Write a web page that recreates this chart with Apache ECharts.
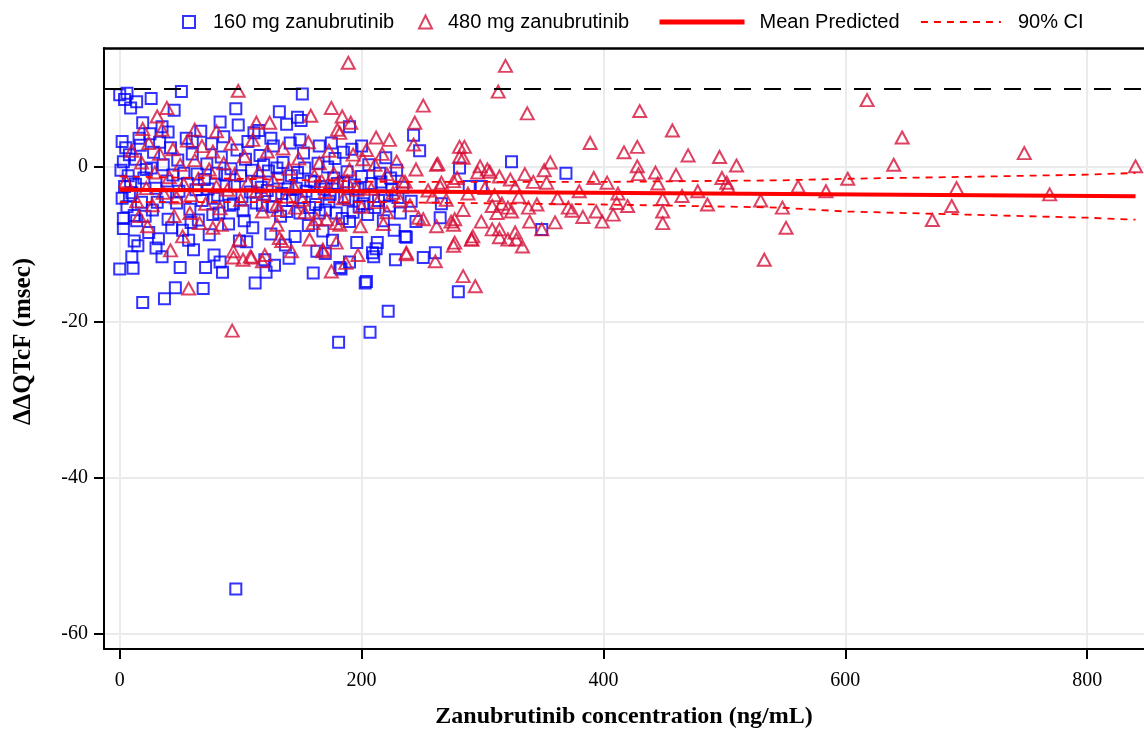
<!DOCTYPE html>
<html>
<head>
<meta charset="utf-8">
<script src="https://cdn.jsdelivr.net/npm/echarts@6/dist/echarts.min.js"></script>
<style>html,body{margin:0;padding:0;background:#fff}#c{width:1144px;height:735px}</style>
</head>
<body>
<div id="c"></div>
<script>
// ---- data ----
const xTicks = [0, 200, 400, 600, 800];
const yTicks = [-60, -40, -20, 0];

const blue160 = [
[0,9.2],[6,9.4],[4,8.6],[14,8.3],[9,7.5],[26,8.7],[51,9.6],[151,9.3],[96,7.4],[45,7.2],[132,7.0],[147,6.3],[150,5.9],[190,5.1],[83,5.7],[98,5.3],[35,5.1],[19,5.6],[149,3.4],[111,4.3],
[2,3.2],[5,2.4],[8,1.5],[3,0.6],[1,-0.5],[7,-1.2],[4,-2.6],[10,-3.4],[2,-4.1],[6,-5.2],[12,-6.3],[3,-8.0],[10,-11.6],[0,-13.2],[11,-13.1],[15,-10.2],[13,0.9],[16,3.6],[9,-2.0],[14,-7.0],[18,-4.6],[20,-1.5],[17,2.7],[22,-0.4],[24,-8.5],[19,-17.5],[25,4.2],[28,1.8],[30,-2.8],[27,-5.6],[32,-9.3],[35,-11.6],[37,-17.0],[33,3.1],[36,0.2],[38,-3.9],[40,-6.8],[42,2.4],[44,-1.1],[46,-15.6],[47,-4.7],[50,-13.0],[48,0.8],[52,-8.2],[55,3.6],[56,-2.2],[58,-5.5],[61,-10.7],[60,1.6],[63,-3.0],[65,-6.9],[67,4.5],[69,-15.7],[71,-13.0],[70,-1.7],[72,0.3],[74,-8.8],[76,2.9],[78,-4.1],[80,-0.9],[83,-12.3],[85,-13.6],[82,-6.0],[84,1.2],[86,3.8],[88,-2.5],[90,-7.4],[92,-0.3],[94,-4.8],[96,-54.3],[97,2.1],[99,-9.6],[100,-1.2],[102,-5.7],[104,0.9],[106,3.2],[108,-3.3],[110,-7.9],[112,-15.0],[114,-2.0],[116,1.4],[118,-5.0],[120,-12.0],[121,-13.6],[123,-0.6],[125,-8.7],[127,2.6],[129,-3.8],[131,-1.5],[133,-6.4],[135,0.5],[137,-10.1],[139,-2.9],[141,3.0],[143,-4.4],[145,-9.0],[147,-0.8],[149,-6.0],[152,1.7],[154,-3.2],[156,-7.6],[158,-1.9],[160,-13.7],[163,-10.9],[162,-4.9],[164,0.4],[166,-2.6],[168,-8.3],[170,-5.6],[172,-0.1],[174,-3.6],[176,-9.5],[178,1.0],[180,-2.2],[182,-13.0],[181,-22.6],[183,-13.2],[184,-6.7],[186,-4.0],[188,-0.7],[190,-7.1],[192,2.2],[194,-2.4],[196,-9.8],[198,-5.2],[200,-1.3],[203,-15.0],[204,-14.8],[202,-3.7],[205,-6.2],[207,-21.3],[209,-11.1],[210,-11.6],[212,-10.6],[213,-9.8],[206,0.2],[214,-4.4],[216,-2.0],[218,-7.0],[220,1.1],[222,-18.6],[223,-5.1],[225,-3.0],[227,-8.2],[229,-0.5],[232,-6.0],[236,-9.0],[237,-9.1],[241,-4.5],[243,4.0],[245,-7.1],[248,2.0],[251,-11.7],[261,-11.1],[265,-6.6],[266,-4.8],[280,-16.1],[281,-0.2],[289,-2.6],[299,-2.6],[324,0.6],[349,-8.1],[369,-0.9],[234,-2.7],[228,-12.0],[190,-12.3],[170,-11.2],[140,-11.8],[128,-12.7],[105,-9.7],[78,-11.4],[57,-9.5],[30,-10.5],[12,-9.6],
[3,-6.7],[8,-3.8],[13,-2.3],[21,-6.4],[26,-0.2],[31,-4.6],[39,-1.9],[43,-7.9],[49,-3.2],[53,-0.9],[59,-7.2],[64,-1.0],[68,-4.4],[73,-2.9],[77,-6.2],[81,-3.7],[87,-1.1],[91,-5.0],[95,-2.5],[101,-3.9],[103,-7.0],[109,-0.5],[113,-4.7],[117,-2.7],[119,0.2],[122,-3.1],[126,-5.2],[130,-0.2],[134,-3.5],[138,-5.8],[142,-1.2],[146,-2.8],[150,-4.0],[153,-0.2],[157,-5.3],[161,-2.0],[165,-6.0],[169,-2.9],[173,-4.5],[177,-1.5],[179,-6.0],[185,-2.0],[189,-4.3],[193,-5.9],[197,-2.9],[201,-4.8],[208,-2.2],[211,-5.3],[215,-0.9],[219,-3.8],[224,-1.5],[230,-4.0],[60,3.2],[40,4.4],[115,4.6],[138,5.4],[125,3.6],[165,2.6],[175,3.0],[185,1.8],[200,2.6]
];

const red480 = [
[93,-21.1],[189,13.3],[319,12.9],[313,9.6],[98,9.7],[251,7.8],[337,6.8],[244,5.6],[389,3.0],[430,7.1],[457,4.6],[417,1.8],[428,2.5],[470,1.4],[496,1.2],[510,0.1],[428,0.0],[429,-1.0],[443,-0.8],[460,-1.1],[445,-2.2],[449,-4.2],[449,-5.8],[449,-7.3],[498,-1.5],[502,-2.1],[503,-2.6],[478,-3.2],[486,-4.9],[412,-3.5],[411,-4.7],[408,-6.2],[403,-2.1],[399,-7.1],[394,-5.8],[380,-3.2],[383,-6.5],[371,-5.3],[374,-5.7],[360,-7.2],[356,0.5],[351,-0.5],[353,-2.1],[345,-4.9],[349,-8.1],[339,-7.1],[338,-5.3],[342,-2.0],[328,-9.4],[333,-10.3],[321,-9.4],[327,-8.5],[321,-5.3],[324,-5.8],[327,-2.7],[323,-1.7],[314,-1.3],[316,-4.8],[312,-6.0],[314,-8.1],[308,-5.1],[304,-0.4],[298,0.0],[296,-0.8],[299,-7.1],[292,-9.0],[291,-9.4],[285,2.5],[281,2.5],[281,1.2],[284,-5.6],[279,-1.5],[277,-6.8],[276,-7.5],[277,-9.8],[262,0.2],[265,-2.6],[262,-7.7],[259,-3.9],[251,-6.8],[247,-6.6],[237,-11.1],[243,2.8],[236,-2.0],
[618,8.5],[647,3.7],[640,0.2],[748,1.7],[840,0.0],[602,-1.6],[561,-2.6],[584,-3.2],[692,-2.8],[769,-3.6],[548,-5.3],[688,-5.1],[551,-7.9],[672,-6.9],[533,-12.0],
[39,7.5],[31,6.4],[158,6.5],[175,7.5],[184,6.4],[191,5.6],[113,5.6],[124,5.6],[62,4.7],[35,4.7],[19,4.8],[80,4.5],[212,3.7],[223,3.4],[182,4.3],[180,4.7],
[57,-15.7],[42,-10.8],[77,-7.9],[84,-7.5],[94,-10.9],[94,-11.7],[102,-12.0],[109,-11.7],[99,-9.4],[118,-12.2],[134,-9.6],[142,-10.9],[168,-10.7],[179,-9.8],[187,-12.4],[197,-11.4],[175,-13.5],[160,-7.3],[179,-7.3],[66,-7.3],[52,-9.0],[23,-7.7],[16,-6.4],[58,-6.0],[45,-6.4],
[284,-14.1],[294,-15.4],[237,-11.3],[261,-12.2],[276,-10.2],[274,-7.1],[291,-9.4],[308,-8.1],[314,-9.1],[218,-7.4],[199,-7.7],[182,-7.5],[171,-6.8],[163,-6.8],[157,-9.4],[168,-10.9],[132,-9.2],[120,-11.4],[108,-11.6],[130,-7.5],[145,-5.3],
[284,1.1],[306,-0.7],[276,-1.9],[266,-2.1],[245,-0.4],[234,-1.9],[221,-1.0],[211,0.2],[201,0.9],[190,-0.4],[179,-2.3],[167,-1.9],[151,-4.3],[138,-3.9],[130,-4.9],[118,-5.8],[113,-3.2],[263,0.3],
[5,-1.9],[10,2.0],[14,-4.5],[18,0.5],[22,-2.8],[24,3.0],[27,-5.0],[29,-0.8],[33,1.6],[36,-3.4],[41,-1.4],[44,2.2],[47,-4.0],[50,0.2],[53,-2.3],[56,3.3],[59,-3.7],[62,0.8],[65,-1.6],[68,2.6],[71,-4.8],[74,-0.4],[77,1.9],[80,-2.6],[83,-5.4],[86,0.4],[89,-3.0],[92,2.9],[95,-1.0],[100,-4.3],[103,1.3],[106,-2.1],[110,3.4],[115,-0.7],[119,-3.6],[122,1.9],[127,-1.8],[131,-5.6],[135,2.3],[140,-0.3],[144,-2.6],[148,1.0],[153,-5.9],[156,3.1],[161,-1.2],[165,0.4],[170,-3.3],[173,2.0],[177,-0.9],[185,-4.1],[188,-1.9],[193,1.5],[196,-3.0],[200,-5.2],[204,2.1],[208,-2.9],[213,-4.6],[217,1.6],[221,-5.9],[226,-3.4],[229,0.6],[232,-4.4],[240,-5.0],[255,-3.1],[270,-4.3],[288,-3.5],[302,-2.8],[310,-3.7],[330,-3.9],[335,-1.0],[362,-4.1],[392,-1.5],[420,-5.1],[465,-3.8],[530,-4.4]
];

const meanX = [0, 840];
const meanY = [-3.0, -3.85];
const ciX     = [0,    100,  215,  400,  546,  600,  700,  800,  840];
const ciUpper = [-1.3, -1.6, -2.0, -2.0, -1.8, -1.6, -1.35, -1.07, -0.85];
const ciLower = [-4.6, -4.6, -4.6, -4.9, -5.3, -5.8, -6.2, -6.6, -6.85];
const refLineY = 10;

// ---- chart ----
const zip = (a, b) => a.map((v, i) => [v, b[i]]);
const chart = echarts.init(document.getElementById('c'), null, {renderer: 'canvas'});
const serif = '"Liberation Serif", "Times New Roman", serif';
const sans = '"Liberation Sans", Arial, sans-serif';
const legendText = {fontFamily: sans, fontSize: 20, color: '#000'};

chart.setOption({
  animation: false,
  backgroundColor: '#fff',
  grid: {left: 104, right: 0, top: 48, bottom: 86, containLabel: false},
  legend: [
    {left: 177, top: 7, itemWidth: 12, itemHeight: 12, data: ['160 mg zanubrutinib'], textStyle: Object.assign({padding: [0,0,0,13]}, legendText)},
    {left: 413, top: 7, itemWidth: 13, itemHeight: 13, data: ['480 mg zanubrutinib'], textStyle: Object.assign({padding: [0,0,0,11]}, legendText)},
    {left: 652, top: 7, itemWidth: 85, itemHeight: 14,
     data: [{name: 'Mean Predicted', itemStyle: {opacity: 0}, lineStyle: {width: 5, color: '#FF0000'}}],
     textStyle: Object.assign({padding: [0,0,0,10]}, legendText)},
    {left: 915, top: 7, itemWidth: 80, itemHeight: 14,
     data: [{name: '90% CI', itemStyle: {opacity: 0}, lineStyle: {width: 1.8, color: '#FF0000', type: [7, 6]}}],
     textStyle: Object.assign({padding: [0,0,0,12]}, legendText)}
  ],
  xAxis: [{
    type: 'value', min: -13, max: 847,
    name: 'Zanubrutinib concentration (ng/mL)', nameLocation: 'middle', nameGap: 56,
    nameTextStyle: {fontFamily: serif, fontSize: 24, fontWeight: 'bold', color: '#000'},
    axisLine: {show: true, onZero: false, lineStyle: {color: '#000', width: 2}},
    axisTick: {show: true, length: 10, customValues: xTicks, lineStyle: {color: '#000', width: 2}},
    axisLabel: {customValues: xTicks, margin: 22, fontFamily: serif, fontSize: 20, color: '#000'},
    splitLine: {show: true, lineStyle: {color: '#EBEBEB', width: 2}}
  }, {
    type: 'value', position: 'top', min: -13, max: 847,
    axisLine: {show: true, onZero: false, lineStyle: {color: '#000', width: 2.5}},
    axisTick: {show: false}, axisLabel: {show: false}, splitLine: {show: false}
  }],
  yAxis: {
    type: 'value', min: -62, max: 15.2,
    name: 'ΔΔQTcF (msec)', nameLocation: 'middle', nameGap: 68, nameRotate: 90,
    nameTextStyle: {fontFamily: serif, fontSize: 25, fontWeight: 'bold', color: '#000', padding: [0, 0, 0, 14]},
    axisLine: {show: true, onZero: false, lineStyle: {color: '#000', width: 2}},
    axisTick: {show: true, length: 10, customValues: yTicks, lineStyle: {color: '#000', width: 2}},
    axisLabel: {customValues: yTicks, margin: 16, fontFamily: serif, fontSize: 20, color: '#000'},
    splitLine: {show: true, lineStyle: {color: '#EBEBEB', width: 2}}
  },
  series: [
    {
      name: '160 mg zanubrutinib', type: 'scatter', symbol: 'rect', symbolSize: 11,
      itemStyle: {color: 'rgba(0,0,0,0)', borderColor: '#0000FF', borderWidth: 2},
      data: blue160, z: 3
    },
    {
      name: '480 mg zanubrutinib', type: 'scatter', symbol: 'triangle', symbolSize: [13, 12],
      itemStyle: {color: 'rgba(0,0,0,0)', borderColor: '#D6123A', borderWidth: 2},
      data: red480, z: 3
    },
    {
      name: 'Mean Predicted', type: 'line', symbol: 'none', data: zip(meanX, meanY),
      lineStyle: {color: '#FF0000', width: 4}, itemStyle: {color: '#FF0000'}, z: 5,
      markLine: {
        silent: true, symbol: 'none', label: {show: false},
        lineStyle: {color: '#000', type: [17, 13], width: 2},
        data: [{yAxis: refLineY}]
      }
    },
    {
      name: '90% CI', type: 'line', symbol: 'none', data: zip(ciX, ciUpper),
      lineStyle: {color: '#FF0000', width: 1.8, type: [7, 6]}, itemStyle: {color: '#FF0000'}, z: 5
    },
    {
      name: '90% CI', type: 'line', symbol: 'none', data: zip(ciX, ciLower),
      lineStyle: {color: '#FF0000', width: 1.8, type: [7, 6]}, itemStyle: {color: '#FF0000'}, z: 5
    }
  ]
});
</script>
</body>
</html>
